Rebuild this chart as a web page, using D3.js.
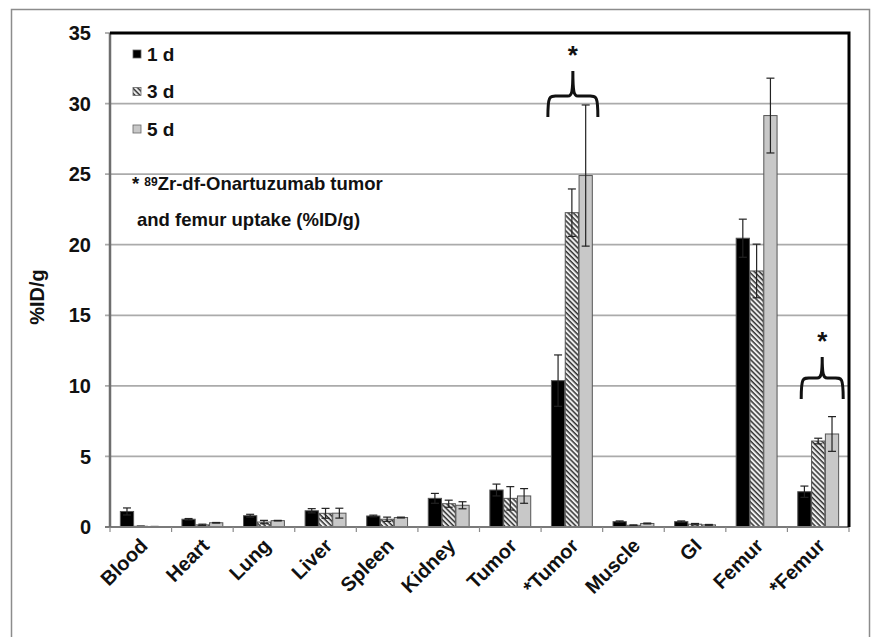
<!DOCTYPE html>
<html>
<head>
<meta charset="utf-8">
<script src="https://cdn.jsdelivr.net/npm/d3@7"></script>
<style>
  body { margin: 0; background: #fff; }
  text { font-family: "Liberation Sans", Arial, sans-serif; font-weight: bold; }
</style>
</head>
<body>
<svg id="chart" width="872" height="637"></svg>
<script>
const tissues = ["Blood", "Heart", "Lung", "Liver", "Spleen", "Kidney", "Tumor", "*Tumor", "Muscle", "GI", "Femur", "*Femur"];
const series = ["1 d", "3 d", "5 d"];
const day1 = [1.1, 0.55, 0.8, 1.15, 0.78, 2.03, 2.62, 10.37, 0.38, 0.38, 20.46, 2.5];
const day1Err = [0.25, 0.05, 0.1, 0.15, 0.06, 0.35, 0.42, 1.82, 0.05, 0.05, 1.35, 0.4];
const day3 = [0.05, 0.15, 0.35, 0.97, 0.55, 1.65, 2.03, 22.27, 0.12, 0.2, 18.14, 6.09];
const day3Err = [0.02, 0.05, 0.12, 0.35, 0.15, 0.25, 0.83, 1.68, 0.03, 0.05, 1.9, 0.2];
const day5 = [0.03, 0.3, 0.45, 0.98, 0.67, 1.54, 2.2, 24.9, 0.25, 0.15, 29.15, 6.59];
const day5Err = [0.01, 0.02, 0.02, 0.35, 0.03, 0.25, 0.52, 5.0, 0.03, 0.03, 2.65, 1.23];
const yTicks = [0, 5, 10, 15, 20, 25, 30, 35];
const starred = ["*Tumor", "*Femur"];
const braceTop = [32.3, 12.05];

const svg = d3.select("#chart");
const margin = { left: 110, top: 33, right: 849, bottom: 527 };

// outer frame
svg.append("rect")
  .attr("x", 11.5).attr("y", 9.5)
  .attr("width", 858).attr("height", 640)
  .attr("fill", "none").attr("stroke", "#8c8c8c").attr("stroke-width", 1.5);

const defs = svg.append("defs");
const hatch = defs.append("pattern")
  .attr("id", "hatch")
  .attr("patternUnits", "userSpaceOnUse")
  .attr("width", 3.6).attr("height", 3.6)
  .attr("patternTransform", "rotate(45)");
hatch.append("rect").attr("width", 3.6).attr("height", 3.6).attr("fill", "#eeeeee");
hatch.append("rect").attr("width", 3.6).attr("height", 1.5).attr("fill", "#333");

const x = d3.scaleBand()
  .domain(tissues)
  .range([margin.left, margin.right]);

const x1 = d3.scaleBand()
  .domain(series)
  .range([0, x.bandwidth()])
  .paddingInner(0.04)
  .paddingOuter(0.75);

const y = d3.scaleLinear()
  .domain([0, 35])
  .range([margin.bottom, margin.top]);

// gridlines
svg.append("g")
  .selectAll("line")
  .data(yTicks.filter(t => t > 0 && t < 35))
  .join("line")
  .attr("x1", margin.left - 5).attr("x2", margin.right)
  .attr("y1", d => y(d)).attr("y2", d => y(d))
  .attr("stroke", "#ababab").attr("stroke-width", 1.8);

// y ticks and labels
svg.append("g")
  .selectAll("line")
  .data([0, 35])
  .join("line")
  .attr("x1", margin.left - 5).attr("x2", margin.left)
  .attr("y1", d => y(d)).attr("y2", d => y(d))
  .attr("stroke", "#999").attr("stroke-width", 1.5);

svg.append("g")
  .selectAll("text")
  .data(yTicks)
  .join("text")
  .attr("x", 91)
  .attr("y", d => y(d))
  .attr("dy", "0.36em")
  .attr("text-anchor", "end")
  .attr("font-size", 20)
  .attr("fill", "#111")
  .text(d => d);

svg.append("text")
  .attr("transform", "translate(44,297) rotate(-90)")
  .attr("text-anchor", "middle")
  .attr("font-size", 20)
  .attr("fill", "#111")
  .text("%ID/g");

// bars
const seriesData = [
  { key: "1 d", vals: day1, errs: day1Err, fill: "#000" },
  { key: "3 d", vals: day3, errs: day3Err, fill: "url(#hatch)" },
  { key: "5 d", vals: day5, errs: day5Err, fill: "#c8c8c8" }
];

const groups = svg.append("g")
  .selectAll("g")
  .data(seriesData)
  .join("g");

groups.selectAll("rect")
  .data(s => tissues.map((t, i) => ({ t, v: s.vals[i], e: s.errs[i], key: s.key, fill: s.fill })))
  .join("rect")
  .attr("x", d => x(d.t) + x1(d.key))
  .attr("y", d => y(d.v))
  .attr("width", x1.bandwidth())
  .attr("height", d => y(0) - y(d.v))
  .attr("fill", d => d.fill)
  .attr("stroke", "#555")
  .attr("stroke-width", 1);

// error bars
const errs = svg.append("g");
seriesData.forEach(s => {
  tissues.forEach((t, i) => {
    const cx = x(t) + x1(s.key) + x1.bandwidth() / 2;
    const lo = y(Math.max(0, s.vals[i] - s.errs[i]));
    const hi = y(s.vals[i] + s.errs[i]);
    const col = "#222";
    errs.append("line").attr("x1", cx).attr("x2", cx).attr("y1", lo).attr("y2", hi)
      .attr("stroke", col).attr("stroke-width", 1.2);
    [lo, hi].forEach(yy => errs.append("line")
      .attr("x1", cx - 4).attr("x2", cx + 4).attr("y1", yy).attr("y2", yy)
      .attr("stroke", col).attr("stroke-width", 1.2));
  });
});

// axes frame
svg.append("line")
  .attr("x1", margin.left - 5).attr("x2", margin.right)
  .attr("y1", y(0)).attr("y2", y(0))
  .attr("stroke", "#7a7a7a").attr("stroke-width", 2);

svg.append("g")
  .selectAll("line")
  .data(tissues.concat([null]))
  .join("line")
  .attr("x1", d => d ? x(d) : margin.right)
  .attr("x2", d => d ? x(d) : margin.right)
  .attr("y1", y(0)).attr("y2", y(0) + 5)
  .attr("stroke", "#8a8a8a").attr("stroke-width", 1.2);

svg.append("line")
  .attr("x1", margin.left).attr("x2", margin.left)
  .attr("y1", margin.top).attr("y2", y(0))
  .attr("stroke", "#6e6e6e").attr("stroke-width", 2.5);

svg.append("path")
  .attr("d", `M${margin.left},${margin.top}H${margin.right}V${margin.bottom}`)
  .attr("fill", "none").attr("stroke", "#000").attr("stroke-width", 3);

// x labels
svg.append("g")
  .selectAll("text")
  .data(tissues)
  .join("text")
  .attr("transform", d => `translate(${x(d) + x.bandwidth() / 2 + 8},${y(0) + 20}) rotate(-45)`)
  .attr("text-anchor", "end")
  .attr("font-size", 20)
  .attr("fill", "#111")
  .text(d => d);

// braces over starred groups
starred.forEach((t, k) => {
  const cx = x(t) + x.bandwidth() / 2 + (k === 0 ? 1 : 4);
  const yTip = y(braceTop[k]);
  const yMid = yTip + (k === 0 ? 25 : 21), yEnd = yMid + 21;
  const hw = k === 0 ? 25 : 21;
  const brace = `M${cx - hw},${yEnd} C${cx - hw},${yMid - 2} ${cx - hw + 2},${yMid} ${cx - hw + 10},${yMid}
    L${cx - 5},${yMid} C${cx - 1},${yMid} ${cx},${yMid - 4} ${cx},${yTip}
    C${cx},${yMid - 4} ${cx + 1},${yMid} ${cx + 5},${yMid}
    L${cx + hw - 10},${yMid} C${cx + hw - 2},${yMid} ${cx + hw},${yMid - 2} ${cx + hw},${yEnd}`;
  svg.append("path")
    .attr("d", brace)
    .attr("fill", "none").attr("stroke", "#111").attr("stroke-width", 3);
  svg.append("text")
    .attr("x", cx).attr("y", yTip - 7)
    .attr("text-anchor", "middle")
    .attr("font-size", 26)
    .attr("font-weight", "normal")
    .attr("fill", "#111")
    .text("*");
});

// legend
const legend = svg.append("g");
seriesData.forEach((s, i) => {
  const ly = 54 + i * 37.5;
  legend.append("rect")
    .attr("x", 133).attr("y", ly - 4).attr("width", 8).attr("height", 8)
    .attr("fill", s.fill).attr("stroke", "#666").attr("stroke-width", 0.8);
  legend.append("text")
    .attr("x", 147).attr("y", ly).attr("dy", "0.36em")
    .attr("font-size", 19).attr("fill", "#111")
    .text(s.key);
});

const note = svg.append("text")
  .attr("x", 132).attr("y", 190)
  .attr("font-size", 18.5).attr("fill", "#111");
note.append("tspan").text("* ");
note.append("tspan").attr("font-size", 12).attr("dy", -4).text("89");
note.append("tspan").attr("dy", 4).text("Zr-df-Onartuzumab tumor");
svg.append("text")
  .attr("x", 137).attr("y", 226)
  .attr("font-size", 18.5).attr("fill", "#111")
  .text("and femur uptake (%ID/g)");
</script>
</body>
</html>
